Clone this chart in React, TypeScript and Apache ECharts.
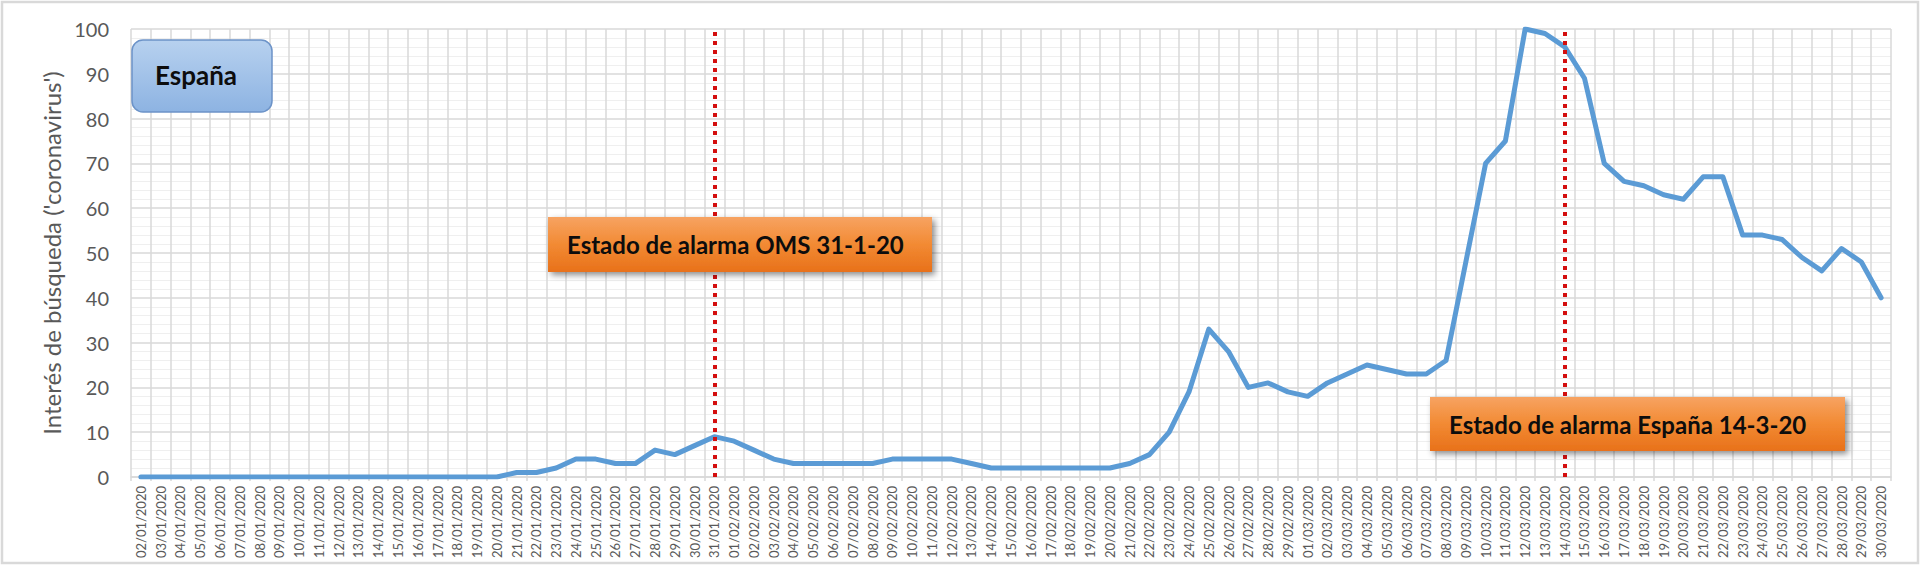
import React, { useEffect, useRef } from "react";
import * as echarts from "echarts";

const categories: string[] = [
  "02/01/2020", "03/01/2020", "04/01/2020", "05/01/2020", "06/01/2020", "07/01/2020", "08/01/2020", "09/01/2020",
  "10/01/2020", "11/01/2020", "12/01/2020", "13/01/2020", "14/01/2020", "15/01/2020", "16/01/2020", "17/01/2020",
  "18/01/2020", "19/01/2020", "20/01/2020", "21/01/2020", "22/01/2020", "23/01/2020", "24/01/2020", "25/01/2020",
  "26/01/2020", "27/01/2020", "28/01/2020", "29/01/2020", "30/01/2020", "31/01/2020",
  "01/02/2020", "02/02/2020", "03/02/2020", "04/02/2020", "05/02/2020", "06/02/2020", "07/02/2020", "08/02/2020",
  "09/02/2020", "10/02/2020", "11/02/2020", "12/02/2020", "13/02/2020", "14/02/2020", "15/02/2020", "16/02/2020",
  "17/02/2020", "18/02/2020", "19/02/2020", "20/02/2020", "21/02/2020", "22/02/2020", "23/02/2020", "24/02/2020",
  "25/02/2020", "26/02/2020", "27/02/2020", "28/02/2020", "29/02/2020",
  "01/03/2020", "02/03/2020", "03/03/2020", "04/03/2020", "05/03/2020", "06/03/2020", "07/03/2020", "08/03/2020",
  "09/03/2020", "10/03/2020", "11/03/2020", "12/03/2020", "13/03/2020", "14/03/2020", "15/03/2020", "16/03/2020",
  "17/03/2020", "18/03/2020", "19/03/2020", "20/03/2020", "21/03/2020", "22/03/2020", "23/03/2020", "24/03/2020",
  "25/03/2020", "26/03/2020", "27/03/2020", "28/03/2020", "29/03/2020", "30/03/2020",
];

const januaryValues: number[] = [
  0, 0, 0, 0, 0, 0, 0, 0, 0, 0, 0, 0, 0, 0, 0, 0, 0, 0, 0,
  1, 1, 2, 4, 4, 3, 3, 6, 5, 7, 9,
];
const februaryValues: number[] = [
  8, 6, 4, 3, 3, 3, 3, 3, 4, 4, 4, 4, 3, 2, 2, 2, 2, 2, 2, 2,
  3, 5, 10, 19, 33, 28, 20, 21, 19,
];
const marchValues: number[] = [
  18, 21, 23, 25, 24, 23, 23, 26, 48, 70, 75, 100, 99, 96, 89, 70,
  66, 65, 63, 62, 67, 67, 54, 54, 53, 49, 46, 51, 48, 40,
];
const interest: number[] = [...januaryValues, ...februaryValues, ...marchValues];

const yTicks = { min: 0, max: 100, interval: 10 };
const eventDates: string[] = ["31/01/2020", "14/03/2020"];
const yAxisTitle = "Interés de búsqueda ('coronavirus')";
const boxLabels: string[] = ["España", "Estado de alarma OMS 31-1-20", "Estado de alarma España 14-3-20"];

const FONT = "Lato, 'Liberation Sans', sans-serif";
const GRAY = "#595959";

export default function App() {
  const ref = useRef<HTMLDivElement>(null);

  useEffect(() => {
    if (!ref.current) return;
    const chart = echarts.init(ref.current, null, { renderer: "svg" });

    const orange = () =>
      new echarts.graphic.LinearGradient(0, 0, 0, 1, [
        { offset: 0, color: "#f7a362" },
        { offset: 0.5, color: "#f28a33" },
        { offset: 1, color: "#e8711a" },
      ]);
    const blue = new echarts.graphic.LinearGradient(0, 0, 0, 1, [
      { offset: 0, color: "#b7d1ef" },
      { offset: 1, color: "#8db3e2" },
    ]);

    const boxShadow = {
      shadowBlur: 6,
      shadowOffsetX: 3,
      shadowOffsetY: 3,
      shadowColor: "rgba(0,0,0,0.45)",
    };

    chart.setOption({
      animation: false,
      backgroundColor: "#ffffff",
      grid: { left: 131, right: 29, top: 29, bottom: 89, containLabel: false },
      xAxis: {
        type: "category",
        data: categories,
        boundaryGap: true,
        axisLine: { show: true, lineStyle: { color: "#d9d9d9", width: 1.5 } },
        axisTick: { show: true, interval: 0, length: 4, lineStyle: { color: "#d9d9d9", width: 1.5 } },
        axisLabel: {
          interval: 0,
          rotate: 90,
          margin: 9,
          color: GRAY,
          fontSize: 13,
          fontFamily: FONT,
        },
        splitLine: { show: true, interval: 0, lineStyle: { color: "#d9d9d9", width: 1.5 } },
      },
      yAxis: {
        type: "value",
        min: yTicks.min,
        max: yTicks.max,
        interval: yTicks.interval,
        name: yAxisTitle,
        nameLocation: "middle",
        nameGap: 68,
        nameTextStyle: { color: GRAY, fontSize: 24, fontFamily: FONT },
        axisLine: { show: false },
        axisTick: { show: false },
        axisLabel: { color: GRAY, fontSize: 20, fontFamily: FONT, margin: 22 },
        splitLine: { show: true, lineStyle: { color: "#d9d9d9", width: 1.5 } },
        minorTick: { show: false, splitNumber: 5 },
        minorSplitLine: { show: true, lineStyle: { color: "#efefef", width: 1 } },
      },
      series: [
        {
          type: "line",
          data: interest,
          symbol: "none",
          smooth: false,
          lineStyle: { color: "#5b9bd5", width: 5, cap: "round", join: "round" },
          z: 3,
          markLine: {
            silent: true,
            symbol: "none",
            label: { show: false },
            lineStyle: { color: "#d40f0f", width: 4, type: [4, 5] },
            data: eventDates.map((d) => ({ xAxis: d })),
          },
        },
      ],
      graphic: [
        {
          type: "rect",
          z: 200,
          shape: { x: 2, y: 2, width: 1916, height: 561 },
          style: { fill: "none", stroke: "#d9d9d9", lineWidth: 2.5 },
          silent: true,
        },
        {
          type: "rect",
          z: 100,
          shape: { x: 132, y: 40, width: 140, height: 72, r: 11 },
          style: { fill: blue, stroke: "#6c93c8", lineWidth: 1.5 },
        },
        {
          type: "text",
          z: 101,
          x: 155,
          y: 75,
          style: {
            text: boxLabels[0],
            font: `bold 26px ${FONT}`,
            fill: "#0d0d0d",
            verticalAlign: "middle",
          },
        },
        {
          type: "rect",
          z: 100,
          shape: { x: 548, y: 217, width: 384, height: 55 },
          style: { fill: orange(), ...boxShadow },
        },
        {
          type: "text",
          z: 101,
          x: 567,
          y: 244.5,
          style: {
            text: boxLabels[1],
            font: `bold 24px ${FONT}`,
            fill: "#0d0d0d",
            verticalAlign: "middle",
          },
        },
        {
          type: "rect",
          z: 100,
          shape: { x: 1430, y: 397, width: 415, height: 54 },
          style: { fill: orange(), ...boxShadow },
        },
        {
          type: "text",
          z: 101,
          x: 1449,
          y: 424,
          style: {
            text: boxLabels[2],
            font: `bold 24px ${FONT}`,
            fill: "#0d0d0d",
            verticalAlign: "middle",
          },
        },
      ],
    });

    return () => chart.dispose();
  }, []);

  return (
    <div
      ref={ref}
      style={{ position: "absolute", left: 0, top: 0, width: 1920, height: 566 }}
    />
  );
}
